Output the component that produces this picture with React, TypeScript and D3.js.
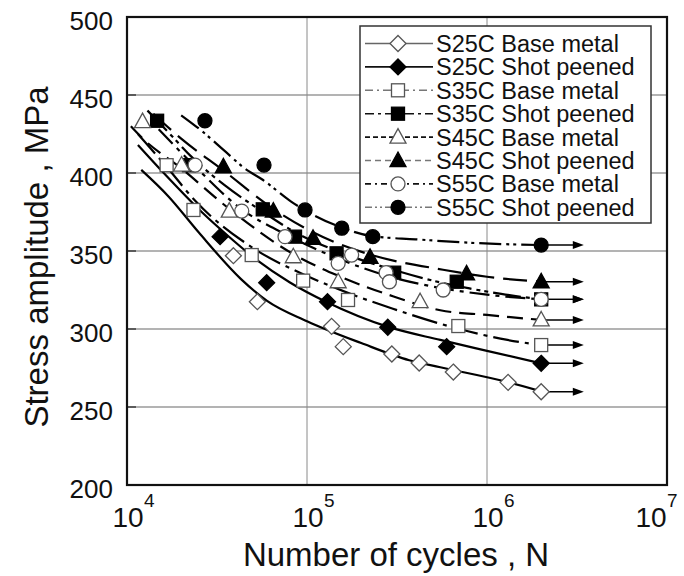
import React from 'react';
import * as d3 from 'd3';

// ---------- axes ----------
const xTickValues = [1e4, 1e5, 1e6, 1e7];
const xTickExponents = ['4', '5', '6', '7'];
const yTickValues = [200, 250, 300, 350, 400, 450, 500];
const gridYValues = [250, 300, 350, 400, 450];
const gridXValues = [1e5, 1e6];
const runoutEndN = 3.45e6;

// ---------- series meta ----------
const seriesNames = [
  'S25C Base metal', 'S25C Shot peened',
  'S35C Base metal', 'S35C Shot peened',
  'S45C Base metal', 'S45C Shot peened',
  'S55C Base metal', 'S55C Shot peened',
];
const seriesMarkers = ['diamond', 'diamond', 'square', 'square', 'triangle', 'triangle', 'circle', 'circle'];
const seriesFilled = [false, true, false, true, false, true, false, true];

// ---------- measured points (N, MPa); last point of each is a run-out at 2e6 ----------
const s25cBaseN = [3.9e4, 5.3e4, 1.37e5, 1.59e5, 2.96e5, 4.2e5, 6.5e5, 1.31e6, 2.0e6];
const s25cBaseS = [347, 317.5, 301.7, 288.7, 284, 278.2, 272.4, 265.8, 259.8];
const s25cShotN = [3.29e4, 5.97e4, 1.3e5, 2.81e5, 5.97e5, 2.0e6];
const s25cShotS = [359.2, 329.7, 317.5, 301.1, 288.7, 278];
const s35cBaseN = [1.66e4, 2.34e4, 4.93e4, 9.52e4, 1.69e5, 6.93e5, 2.0e6];
const s35cBaseS = [405, 376.3, 347.4, 331, 318.6, 301.9, 289.7];
const s35cShotN = [1.47e4, 2.21e4, 5.68e4, 8.58e4, 1.46e5, 3.05e5, 6.79e5, 2.0e6];
const s35cShotS = [433.5, 405, 376.7, 359.2, 348.5, 336.1, 330.3, 319];
const s45cBaseN = [1.22e4, 2.01e4, 3.7e4, 8.39e4, 1.49e5, 4.25e5, 2.0e6];
const s45cBaseS = [432.9, 405.1, 375.6, 346.3, 330.3, 317.5, 305.8];
const s45cShotN = [3.43e4, 6.5e4, 1.08e5, 2.24e5, 7.7e5, 2.0e6];
const s45cShotS = [404, 375.6, 358.1, 346, 335.3, 330.3];
const s55cBaseN = [2.39e4, 4.34e4, 7.55e4, 1.49e5, 1.77e5, 2.75e5, 2.87e5, 5.71e5, 2.0e6];
const s55cBaseS = [405.1, 375.6, 359.2, 342.1, 347.4, 336.1, 330.3, 325, 319];
const s55cShotN = [2.71e4, 5.77e4, 9.75e4, 1.56e5, 2.32e5, 2.0e6];
const s55cShotS = [433.5, 405.1, 376.3, 364.6, 359.2, 353.8];

// ---------- fitted S-N curves (N, MPa) ----------
const s25cBaseCurveN = [1.2e4, 1.7e4, 2.5e4, 4.3e4, 6e4, 1e5, 2e5, 3.7e5, 5.5e5, 1.3e6, 2e6];
const s25cBaseCurveS = [402, 385, 362, 332, 318, 305, 291, 280, 275.5, 266, 260];
const s25cShotCurveN = [1.15e4, 1.6e4, 2.6e4, 3.7e4, 5.3e4, 8e4, 1.3e5, 2.8e5, 5.5e5, 1e6, 2e6];
const s25cShotCurveS = [418, 400, 375, 359, 344, 330, 317, 301.5, 293, 286, 278];
const s35cBaseCurveN = [1.15e4, 1.66e4, 2.4e4, 5e4, 1e5, 1.7e5, 3e5, 7e5, 1.3e6, 2e6];
const s35cBaseCurveS = [425, 404, 382, 352, 334, 323, 313, 300, 293, 289.7];
const s35cShotCurveN = [1.3e4, 1.7e4, 2.3e4, 3.5e4, 5.7e4, 8.6e4, 1.46e5, 3e5, 5e5, 8e5, 1.2e6, 2e6];
const s35cShotCurveS = [440, 426, 410, 392, 375, 362, 350, 338, 331, 326, 322.5, 319];
const s45cBaseCurveN = [1.05e4, 1.2e4, 2e4, 3.7e4, 8.4e4, 1.5e5, 3e5, 5.5e5, 1e6, 2e6];
const s45cBaseCurveS = [430, 423, 403, 377, 348, 334, 321, 312, 309, 305.8];
const s45cShotCurveN = [1.4e4, 2e4, 3.4e4, 6.5e4, 1.08e5, 2.2e5, 5.7e5, 1e6, 2e6];
const s45cShotCurveS = [438, 422, 402, 377, 362, 348, 338, 333.5, 330.3];
const s55cBaseCurveN = [1.5e4, 2.4e4, 4.3e4, 7.5e4, 1.5e5, 2.8e5, 5.7e5, 1e6, 2e6];
const s55cBaseCurveS = [428, 404, 377, 361, 345, 334, 326, 322, 319];
const s55cShotCurveN = [2.0e4, 2.6e4, 3.5e4, 4.5e4, 5.7e4, 8.2e4, 1.56e5, 2.3e5, 4e5, 9e5, 2e6];
const s55cShotCurveS = [437, 427, 414, 403, 395.5, 381.5, 365, 359.5, 357.5, 355, 353.8];

const pointsN = [s25cBaseN, s25cShotN, s35cBaseN, s35cShotN, s45cBaseN, s45cShotN, s55cBaseN, s55cShotN];
const pointsS = [s25cBaseS, s25cShotS, s35cBaseS, s35cShotS, s45cBaseS, s45cShotS, s55cBaseS, s55cShotS];
const curvesN = [s25cBaseCurveN, s25cShotCurveN, s35cBaseCurveN, s35cShotCurveN, s45cBaseCurveN, s45cShotCurveN, s55cBaseCurveN, s55cShotCurveN];
const curvesS = [s25cBaseCurveS, s25cShotCurveS, s35cBaseCurveS, s35cShotCurveS, s45cBaseCurveS, s45cShotCurveS, s55cBaseCurveS, s55cShotCurveS];

// line styles
const plotDash = ['', '', '26 6 4 6', '28 5 4 4 4 5', '16 8', '24 9', '20 6 4 6', '22 5 3 4 3 5'];
const legendDash = ['', '', '8 4 2 4', '9 4 3 4', '5 3', '6 4', '6 4 2 4', '7 3 2 3 2 3'];
const legendColor = ['#666', '#111', '#777', '#111', '#111', '#777', '#111', '#777'];

const FONT = '"Liberation Sans", Arial, Helvetica, sans-serif';

const W = 684, H = 576;
const x = d3.scaleLog().domain([1e4, 1e7]).range([127, 667]);
const y = d3.scaleLinear().domain([200, 500]).range([485, 17]);

function Marker({ type, filled, cx, cy }: { type: string; filled: boolean; cx: number; cy: number }) {
  const fill = filled ? '#000' : '#fff';
  const stroke = filled ? '#000' : '#555';
  const sw = 1.3;
  if (type === 'diamond') {
    const p = d3.path();
    p.moveTo(cx, cy - 8); p.lineTo(cx + 8, cy); p.lineTo(cx, cy + 8); p.lineTo(cx - 8, cy); p.closePath();
    return <path d={p.toString()} fill={fill} stroke={stroke} strokeWidth={sw} />;
  }
  if (type === 'square') {
    return <rect x={cx - 6.5} y={cy - 6.5} width={13} height={13} fill={fill} stroke={stroke} strokeWidth={sw} />;
  }
  if (type === 'triangle') {
    const p = d3.path();
    p.moveTo(cx, cy - 8.5); p.lineTo(cx + 8, cy + 6); p.lineTo(cx - 8, cy + 6); p.closePath();
    return <path d={p.toString()} fill={fill} stroke={stroke} strokeWidth={sw} />;
  }
  return <circle cx={cx} cy={cy} r={7} fill={fill} stroke={stroke} strokeWidth={sw} />;
}

export default function App() {
  const line = d3.line<[number, number]>()
    .x(d => x(d[0]))
    .y(d => y(d[1]))
    .curve(d3.curveMonotoneX);

  const legendX0 = 360, legendY0 = 26, legendW = 291, legendH = 197;
  const rowY = (i: number) => 43.5 + i * 23.4;

  return (
    <svg width={W} height={H} style={{ position: 'absolute', left: 0, top: 0, background: '#fff' }} fontFamily={FONT}>
      <rect x={0} y={0} width={W} height={H} fill="#fff" />
      {/* grid */}
      {gridYValues.map(v => (
        <line key={'gy' + v} x1={x(1e4)} x2={x(1e7)} y1={y(v)} y2={y(v)} stroke="#9a9a9a" strokeWidth={1.3} />
      ))}
      {gridXValues.map(v => (
        <line key={'gx' + v} x1={x(v)} x2={x(v)} y1={y(200)} y2={y(500)} stroke="#8a8a8a" strokeWidth={1} />
      ))}
      {/* inner ticks */}
      {gridYValues.map(v => (
        <line key={'ty' + v} x1={x(1e4)} x2={x(1e4) + 9} y1={y(v)} y2={y(v)} stroke="#444" strokeWidth={1.6} />
      ))}

      {/* curves */}
      {curvesN.map((ns, i) => (
        <path key={'c' + i}
          d={line(ns.map((n, j) => [n, curvesS[i][j]] as [number, number])) || ''}
          fill="none" stroke="#000" strokeWidth={2.2}
          strokeDasharray={plotDash[i] || undefined} />
      ))}

      {/* run-out arrows */}
      {pointsN.map((ns, i) => {
        const last = ns.length - 1;
        const x1 = x(ns[last]);
        const x2 = x(runoutEndN);
        const yy = y(pointsS[i][last]);
        return (
          <g key={'a' + i}>
            <line x1={x1} x2={x2 - 8} y1={yy} y2={yy} stroke="#000" strokeWidth={1.4} />
            <path d={`M${x2},${yy} L${x2 - 11},${yy - 4} L${x2 - 11},${yy + 4} Z`} fill="#000" />
          </g>
        );
      })}

      {/* markers */}
      {pointsN.map((ns, i) => (
        <g key={'m' + i}>
          {ns.map((n, j) => (
            <Marker key={j} type={seriesMarkers[i]} filled={seriesFilled[i]} cx={x(n)} cy={y(pointsS[i][j])} />
          ))}
        </g>
      ))}

      {/* frame */}
      <rect x={x(1e4)} y={y(500)} width={x(1e7) - x(1e4)} height={y(200) - y(500)} fill="none" stroke="#111" strokeWidth={2.2} />

      {/* y tick labels */}
      {yTickValues.map(v => (
        <text key={'yl' + v} x={113} y={y(v) + 13} textAnchor="end" fontSize={26} fill="#111">{v}</text>
      ))}
      {/* x tick labels */}
      {xTickValues.map((v, i) => {
        const shift = i === xTickValues.length - 1 ? -16 : 1;
        return (
          <g key={'xl' + v}>
            <text x={x(v) + shift} y={527} textAnchor="middle" fontSize={28} fill="#111">10</text>
            <text x={x(v) + shift + 16} y={507} textAnchor="start" fontSize={19} fill="#111">{xTickExponents[i]}</text>
          </g>
        );
      })}

      {/* axis titles */}
      <text x={396} y={566} textAnchor="middle" fontSize={33} fill="#111">Number of cycles , N</text>
      <text transform={`translate(48,257) rotate(-90)`} textAnchor="middle" fontSize={33} fill="#111">Stress amplitude , MPa</text>

      {/* legend */}
      <rect x={legendX0} y={legendY0} width={legendW} height={legendH} fill="#fff" stroke="#333" strokeWidth={1.5} />
      {seriesNames.map((name, i) => (
        <g key={'lg' + i}>
          <line x1={365} x2={433} y1={rowY(i)} y2={rowY(i)} stroke={legendColor[i]} strokeWidth={1.6}
            strokeDasharray={legendDash[i] || undefined} />
          <Marker type={seriesMarkers[i]} filled={seriesFilled[i]} cx={398} cy={rowY(i)} />
          <text x={436} y={rowY(i) + 8.5} fontSize={23.5} fill="#111">{name}</text>
        </g>
      ))}
    </svg>
  );
}
